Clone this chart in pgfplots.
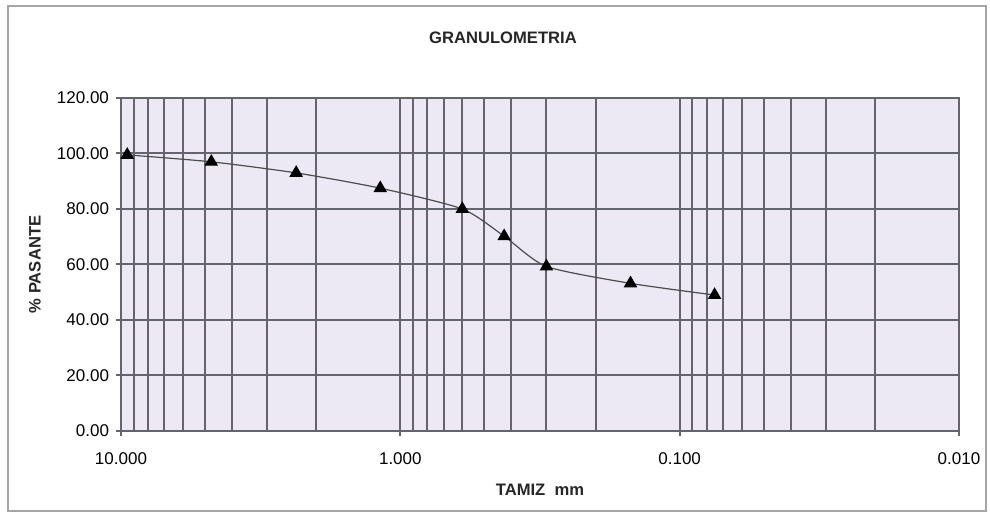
\documentclass[border=0pt]{standalone}
\usepackage{fontspec}
\setmainfont{Liberation Sans}
\usepackage{pgfplots}
\pgfplotsset{compat=1.18}
\definecolor{plotbg}{RGB}{236,233,245}
\definecolor{gridc}{RGB}{100,100,110}
\begin{document}
\begin{tikzpicture}
\path (0pt,0pt) rectangle (495pt,256.5pt);
\draw[gray!70, line width=1pt] (4pt,1pt) rectangle (493pt,253.5pt);
\node[font=\fontsize{8.3pt}{10pt}\selectfont\bfseries, text=black!85] at (251.5pt,237.5pt) {GRANULOMETRIA};
\begin{axis}[
  at={(60.5pt,41pt)}, anchor=south west,
  scale only axis, width=419pt, height=166.5pt,
  xmode=log, x dir=reverse,
  xmin=0.01, xmax=10, ymin=0, ymax=120,
  xtick={10,1,0.1,0.01},
  xticklabels={10.000,1.000,0.100,0.010},
  minor xtick={2,3,4,5,6,7,8,9,0.2,0.3,0.4,0.5,0.6,0.7,0.8,0.9,0.02,0.03,0.04,0.05,0.06,0.07,0.08,0.09},
  ytick={0,20,...,120},
  yticklabel style={/pgf/number format/.cd, fixed, fixed zerofill, precision=2},
  xticklabel style={yshift=-5pt},
  /pgf/number format/assume math mode=true,
  ticklabel style={font=\fontsize{8.5pt}{10pt}\selectfont, text=black},
  axis background/.style={fill=plotbg},
  grid=both,
  major grid style={gridc, line width=1pt},
  minor grid style={gridc, line width=1pt},
  axis line style={gridc, line width=1pt},
  tick align=outside,
  major tick length=2.5pt, minor tick length=0pt,
  tick style={gridc, line width=1pt},
  xtick pos=bottom, ytick pos=left,
  xlabel={TAMIZ\ \ mm}, ylabel={\% PASANTE},
  label style={font=\fontsize{8.3pt}{10pt}\selectfont\bfseries, text=black!85},
  xlabel style={at={(axis description cs:0.5,-0.177)}, anchor=center},
  ylabel style={at={(axis description cs:-0.1026,0.5)}, anchor=center},
]
\addplot[color=gray!60!black, line width=0.6pt, smooth, tension=0.4,
  mark=triangle*, mark size=3.3pt, mark options={fill=black, draw=black, solid}]
coordinates {
 (9.5,99.5) (4.75,97) (2.36,93) (1.18,87.5) (0.6,80) (0.425,70.2) (0.3,59.3) (0.15,53.2) (0.075,49)
};
\end{axis}
\end{tikzpicture}
\end{document}
